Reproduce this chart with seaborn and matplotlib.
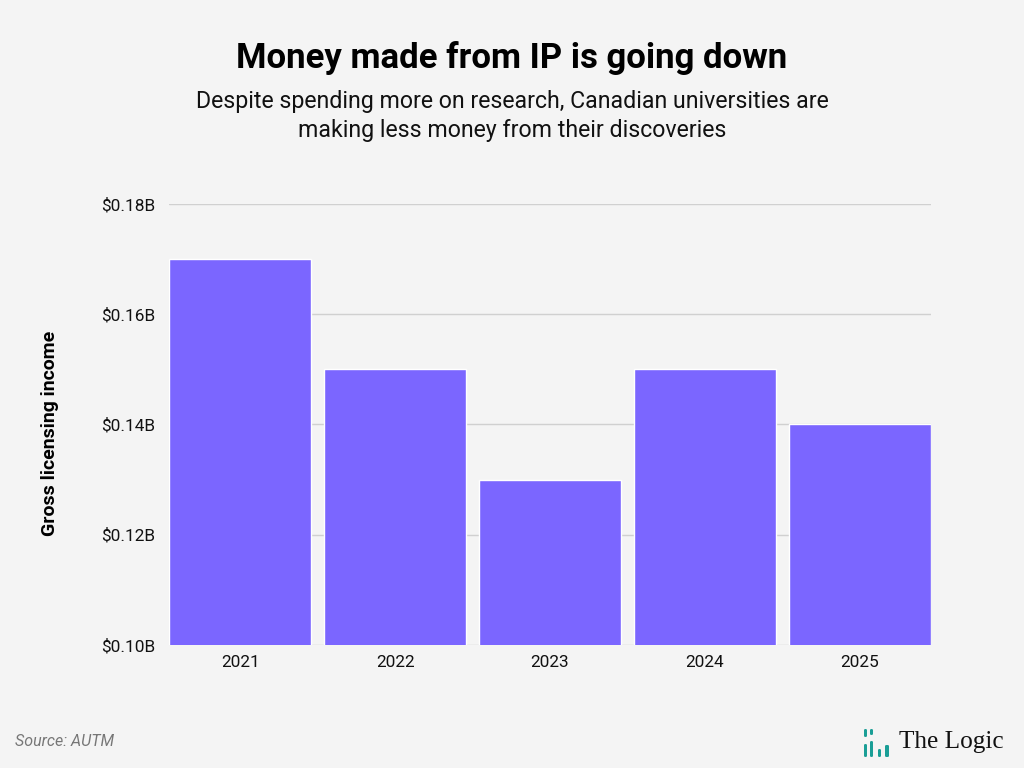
import matplotlib
matplotlib.use("Agg")
import matplotlib.pyplot as plt
import matplotlib.patches as mpatches
import pandas as pd
import seaborn as sns

years = ["2021", "2022", "2023", "2024", "2025"]
income_billions = [0.17, 0.15, 0.13, 0.15, 0.14]
y_ticks = [0.10, 0.12, 0.14, 0.16, 0.18]

BG = "#f4f4f4"
BAR = "#7b66ff"

sns.set_theme(style="white")
plt.rcParams["font.family"] = ["Roboto", "DejaVu Sans"]

df = pd.DataFrame({"year": years, "income": income_billions})

fig = plt.figure(figsize=(10.24, 7.68), dpi=100, facecolor=BG)
ax = fig.add_axes([169 / 1024, 1 - 645 / 768, (931 - 169) / 1024, (645 - 204) / 768])
ax.set_facecolor(BG)

w = 0.92
sns.barplot(data=df, x="year", y="income", color=BAR, saturation=1, width=w, ax=ax, zorder=2)
ax.set_xlim(-w / 2, len(years) - 1 + w / 2)
ax.set_ylim(0.10, 0.18)
ax.set_yticks(y_ticks)
ax.set_yticklabels([f"${v:.2f}B" for v in y_ticks])
ax.grid(axis="y", color="#d0d0d0", linewidth=1, zorder=0)
for s in ax.spines.values():
    s.set_visible(False)
ax.tick_params(axis="y", length=0, labelsize=12.4, colors="#111111", pad=10)
ax.tick_params(axis="x", length=0, labelsize=12.4, colors="#111111", pad=7)
ax.set_xlabel("")
ax.set_ylabel("")
fig.text(50 / 1024, 1 - 433 / 768, "Gross licensing income", rotation=90, ha="center", va="center",
         fontsize=14, fontweight="bold", color="#000000")

fig.text(0.5, 1 - 58 / 768, "Money made from IP is going down", ha="center", va="center",
         fontsize=25, fontweight="bold", color="#000000")
fig.text(0.5, 1 - 116 / 768,
         "Despite spending more on research, Canadian universities are\nmaking less money from their discoveries",
         ha="center", va="center", fontsize=16.7, color="#111111", linespacing=1.35)

fig.text(15 / 1024, 1 - 742 / 768, "Source: AUTM", ha="left", va="center",
         fontsize=11.5, style="italic", color="#777777")

# logo
teal = "#1a9e96"
for x0, x1, y0, y1 in [(864, 867, 729, 737), (864, 867, 744, 757), (870, 873, 729, 735),
                       (870, 873, 741, 757), (878, 881, 749, 757), (885, 889, 745, 757)]:
    fig.add_artist(mpatches.FancyBboxPatch((x0 / 1024, 1 - y1 / 768), (x1 - x0) / 1024, (y1 - y0) / 768,
                                           boxstyle="round,pad=0,rounding_size=0.0015",
                                           transform=fig.transFigure, color=teal, lw=0))
fig.text(899 / 1024, 1 - 742 / 768, "The Logic", ha="left", va="center",
         fontsize=18.2, family=["Liberation Serif", "DejaVu Serif"], color="#111111")

fig.savefig("out.png", dpi=100, facecolor=BG)
